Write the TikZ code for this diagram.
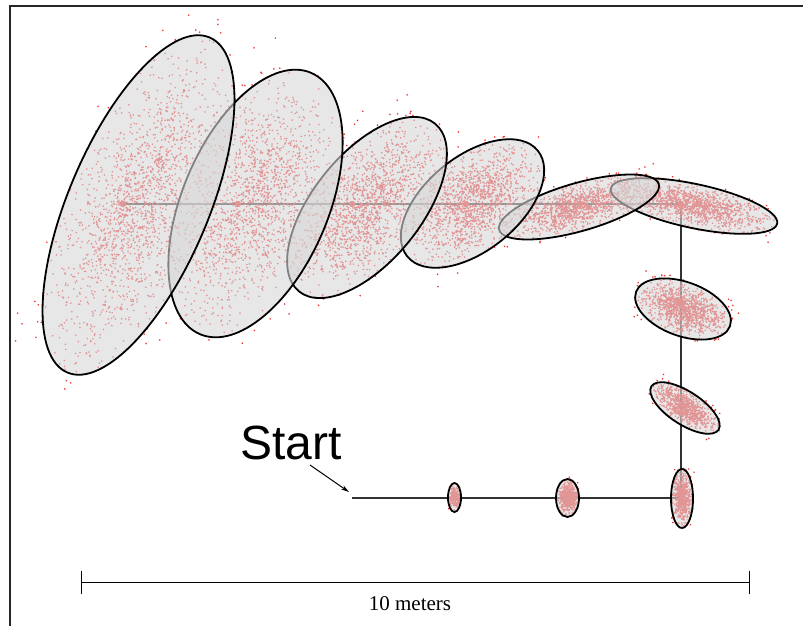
\documentclass[tikz,border=0pt]{standalone}
\usepackage{fontspec}
\setmainfont{Liberation Serif}
\newfontfamily\labelfont{Liberation Sans}
\usetikzlibrary{arrows.meta}

\definecolor{particle}{RGB}{240,50,50}
\definecolor{covfill}{RGB}{215,215,215}
\definecolor{trackline}{RGB}{50,50,50}

\tikzset{
  covariance/.style={draw=black, line width=1.8pt, fill=covfill, fill opacity=0.6},
  track/.style={draw=trackline, line width=1.6pt},
  waypoint/.style={fill=particle},
  frameline/.style={draw=black!85, line width=2pt},
  scalebar/.style={draw=black, line width=0.9pt},
  pointer/.style={draw=black, line width=1pt, -{Stealth[length=8pt,width=4.5pt]}},
}

% particle cloud as one path: centre x, centre y, angle, sigma along, sigma across, count
\newcommand{\particlecloud}[6]{%
  \fill[particle, shift={(#1,#2)}, rotate=#3]
    \foreach \k in {1,...,#6}{
      ({(rand+rand+rand)*#4pt},{(rand+rand+rand)*#5pt}) rectangle ++(1.3pt,1.3pt)
    };}

% covariance ellipse: centre x, centre y, angle, radius along, radius across
\newcommand{\covellipse}[5]{%
  \path[covariance, shift={(#1,#2)}, rotate=#3] (0,0) ellipse[x radius=#4pt, y radius=#5pt];}

\begin{document}
\begin{tikzpicture}[x=1pt, y=-1pt]
  \useasboundingbox (0,0) rectangle (803,626);
  \pgfmathsetseed{4217}

  % frame
  \draw[frameline] (9.5,626) -- (9.5,6) -- (803,6);

  % robot track
  \coordinate (w0) at (352,498);
  \coordinate (w1) at (455,498);
  \coordinate (w2) at (567,498);
  \coordinate (w3) at (681,498);
  \coordinate (w4) at (681,413);
  \coordinate (w5) at (681,305);
  \coordinate (w6) at (681,204);
  \coordinate (w7) at (580,204);
  \coordinate (w8) at (466,204);
  \coordinate (w9) at (352,204);
  \coordinate (w10) at (238,204);
  \coordinate (w11) at (123,204);
  \draw[track] (w0) -- (w1) -- (w2) -- (w3) -- (w4) -- (w5) -- (w6)
    -- (w7) -- (w8) -- (w9) -- (w10) -- (w11);

  % particles
  \particlecloud{454.5}{497.5}{0}{2.4}{5.2}{250}
  \particlecloud{567.5}{498}{0}{4.2}{7.2}{500}
  \particlecloud{682}{498.5}{0}{4.2}{11.4}{600}
  \particlecloud{685}{408}{-33}{15.5}{6.2}{800}
  \particlecloud{683}{309}{-20}{19.5}{10.5}{1100}
  \particlecloud{694}{206}{-12}{33}{8.6}{1200}
  \particlecloud{579}{207}{16}{32}{9.4}{1200}
  \particlecloud{472.5}{203.5}{39}{33}{18.4}{1300}
  \particlecloud{367}{207.5}{51}{42}{21.2}{1400}
  \particlecloud{255.5}{203.5}{67}{56}{28.5}{1500}
  \particlecloud{138.5}{205}{67}{72}{27.5}{1700}

  % estimated poses
  \foreach \w in {w1,w2,w3,w4,w5,w6,w7,w8,w9,w10,w11}
    \fill[waypoint] (\w) circle[radius=3.2pt];

  % uncertainty ellipses, oldest on top
  \covellipse{454.5}{497.5}{0}{6.5}{14.5}
  \covellipse{567.5}{498}{0}{11.5}{19}
  \covellipse{682}{498.5}{0}{11}{29.5}
  \covellipse{685}{408}{-33}{40}{16.5}
  \covellipse{683}{309}{-20}{50}{27}
  \covellipse{694}{206}{-12}{85}{22}
  \covellipse{579}{207}{16}{83}{24}
  \covellipse{472.5}{203.5}{39}{84}{47}
  \covellipse{367}{207.5}{51}{108}{54}
  \covellipse{255.5}{203.5}{67}{142}{73}
  \covellipse{138.5}{205}{67}{182}{70}

  % start label
  \node[font=\labelfont\fontsize{48}{48}\selectfont, anchor=base west, inner sep=0pt]
    (start) at (240,459) {Start};
  \coordinate (starttail) at (310,465);
  \draw[pointer] (starttail) -- (349,492);

  % scale bar
  \coordinate (sbL) at (81,582);
  \coordinate (sbR) at (749,582);
  \draw[scalebar] (sbL) -- (sbR);
  \draw[scalebar] ([yshift=11.5pt]sbL) -- ([yshift=-11.5pt]sbL);
  \draw[scalebar] ([yshift=11.5pt]sbR) -- ([yshift=-11.5pt]sbR);
  \node[font=\fontsize{21}{21}\selectfont, anchor=base, inner sep=0pt]
    (scalelabel) at (410,610) {10 meters};
\end{tikzpicture}
\end{document}
